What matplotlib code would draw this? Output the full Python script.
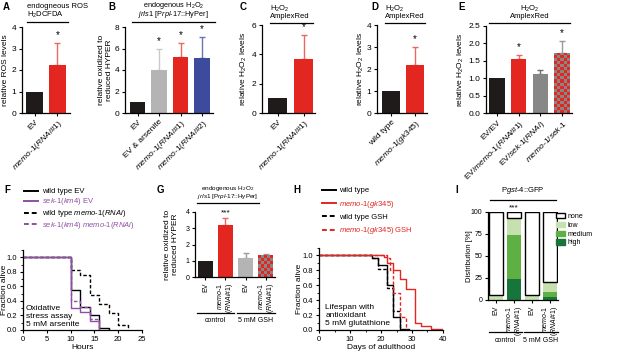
"""
MEMO-1 / H2O2 FIGURE (panels A-I)
"""

import matplotlib.pyplot as plt
import numpy as np
from matplotlib.colors import ListedColormap
from matplotlib.patches import Patch
from matplotlib.ticker import FormatStrFormatter, MultipleLocator
from matplotlib.transforms import blended_transform_factory

plt.rcParams['font.family'] = 'Liberation Sans'
plt.rcParams['mathtext.fontset'] = 'custom'
plt.rcParams['mathtext.rm'] = 'Liberation Sans'
plt.rcParams['mathtext.it'] = 'Liberation Sans:italic'
plt.rcParams['mathtext.bf'] = 'Liberation Sans:bold'
plt.rcParams['axes.linewidth'] = 0.9


def it(s):
    """ Italic text through mathtext, hyphens kept as real hyphens. """
    parts = s.split('-')
    return '-'.join(r'$\mathit{%s}$' % p.replace('#', r'\#').replace(' ', r'\ ')
                    for p in parts)


# Colours.
BLACK = '#1e1b1a'
RED = '#e3261f'
LRED = '#ea6a63'
LGRAY = '#b4b4b4'
DGRAY = '#878787'
BLUE = '#3c4b9b'
PURPLE = '#8f4fa3'
GREENS = ['#17743a', '#5fb043', '#c6e0b0', 'white']

# A - endogenous ROS.
a_labels = ['EV', it('memo-1(RNAi#1)')]
a_vals = [1.0, 2.25]
a_err = [0, 1.0]
a_sig = ['', '*']

# B - HyPer ratio.
b_labels = ['EV', 'EV & arsenite', it('memo-1(RNAi#1)'), it('memo-1(RNAi#2)')]
b_vals = [1.0, 4.0, 5.2, 5.1]
b_err = [0, 1.95, 1.3, 2.0]
b_sig = ['', '*', '*', '*']

# C - AmplexRed, RNAi.
c_labels = ['EV', it('memo-1(RNAi#1)')]
c_vals = [1.0, 3.7]
c_err = [0, 1.65]
c_sig = ['', '*']

# D - AmplexRed, mutant.
d_labels = ['wild type', it('memo-1(gk345)')]
d_vals = [1.0, 2.2]
d_err = [0, 0.82]
d_sig = ['', '*']

# E - AmplexRed, double RNAi.
e_labels = ['EV/EV', 'EV/' + it('memo-1(RNAi#1)'), 'EV/' + it('sek-1(RNAi)'),
            it('memo-1/sek-1')]
e_vals = [1.0, 1.56, 1.12, 1.73]
e_err = [0, 0.12, 0.12, 0.35]
e_sig = ['', '*', '', '*']

# F - arsenite survival (hours, fraction alive).
f_wt_ev_t = [0, 10, 12, 14, 16, 18]
f_wt_ev_s = [1.0, 0.55, 0.32, 0.20, 0.03, 0.0]
f_sek_ev_t = [0, 10, 12, 14, 16]
f_sek_ev_s = [1.0, 0.30, 0.25, 0.12, 0.0]
f_wt_memo_t = [0, 10, 12, 14, 16, 18, 20, 22]
f_wt_memo_s = [1.0, 0.82, 0.75, 0.48, 0.36, 0.23, 0.07, 0.0]
f_sek_memo_t = [0, 10, 12, 14, 16]
f_sek_memo_s = [1.0, 0.40, 0.31, 0.15, 0.0]

# G - HyPer ratio with glutathione.
g_labels = ['EV', it('memo-1') + '\n' + it('(RNAi#1)'),
            'EV', it('memo-1') + '\n' + it('(RNAi#1)')]
g_vals = [1.0, 3.18, 1.2, 1.35]
g_err = [0, 0.45, 0.25, 0.07]
g_sig = ['', '***', '', '']
groups = ['control', '5 mM GSH']

# H - lifespan with glutathione (days, fraction alive).
h_wt_t = [0, 17, 19, 22, 24, 26, 29]
h_wt_s = [1.0, 0.97, 0.87, 0.60, 0.18, 0.02, 0.0]
h_memo_t = [0, 21, 22, 24, 26, 28, 31, 33, 36, 40]
h_memo_s = [1.0, 0.98, 0.90, 0.80, 0.68, 0.55, 0.10, 0.05, 0.02, 0.0]
h_wt_gsh_t = [0, 17, 19, 22, 24, 26]
h_wt_gsh_s = [1.0, 0.96, 0.82, 0.56, 0.26, 0.0]
h_memo_gsh_t = [0, 22, 23, 24, 26, 28]
h_memo_gsh_s = [1.0, 0.97, 0.80, 0.50, 0.17, 0.0]

# I - Pgst-4::GFP distribution [%].
i_labels = g_labels
i_classes = ['high', 'medium', 'low', 'none']
i_high = [0, 24, 0, 3]
i_medium = [0, 50, 0, 6]
i_low = [6, 19, 6, 11]
i_none = [94, 7, 94, 80]

W, H = 617, 352
fig = plt.figure(figsize=(W / 100, H / 100), dpi=100)


def box(l, t, r, b):
    """ Axes rectangle from pixel edges (top = upper y limit). """
    return [l / W, 1 - b / H, (r - l) / W, (b - t) / H]


def style(ax, fs=6):
    for s in ['top', 'right']:
        ax.spines[s].set_visible(False)
    ax.tick_params(width=0.8, length=2.5, labelsize=fs, pad=1.5)
    ax.tick_params(which='minor', width=0.6, length=1.5)


def ylabel_at(ax, text, xpx, fs=6):
    ax.set_ylabel(text, fontsize=fs, linespacing=1.15)
    l, b, w, h = ax.get_position().bounds
    ax.yaxis.set_label_coords((xpx / W - l) / w, 0.5)


def header(ax, text, ytext, yline, x0, x1, ha='center', fs=5.5, ls=0.95):
    """ Title text with a rule under it, x in data, y in pixels. """
    tr = blended_transform_factory(ax.transData, fig.transFigure)
    ax.plot([x0, x1], [1 - yline / H] * 2, transform=tr, color='k', lw=0.9,
            clip_on=False)
    x = x0 if ha == 'left' else (x0 + x1) / 2
    ax.text(x, 1 - ytext / H, text, transform=tr, ha=ha, va='bottom',
            fontsize=fs, linespacing=ls)


def group_lines(ax, yline, ytext, fs):
    tr = blended_transform_factory(ax.transData, fig.transFigure)
    for k, name in enumerate(groups):
        i0, i1 = 2 * k, 2 * k + 1
        ax.plot([i0 - 0.42, i1 + 0.45], [1 - yline / H] * 2, transform=tr,
                color='k', lw=0.9, clip_on=False)
        ax.text((i0 + i1) / 2, 1 - ytext / H, name, transform=tr,
                ha='center', va='center', fontsize=fs)


def checker(ax, bar, c1, c2, cell=3):
    """ Red/grey checker pattern clipped to a bar. """
    bb = bar.get_window_extent()
    nx = max(1, round(bb.width / cell))
    ny = max(1, round(bb.height / cell))
    grid = np.indices((ny, nx)).sum(axis=0) % 2
    x0, y0 = bar.get_x(), bar.get_y()
    im = ax.imshow(grid, cmap=ListedColormap([c1, c2]), origin='lower',
                   extent=(x0, x0 + bar.get_width(), y0, y0 + bar.get_height()),
                   aspect='auto', interpolation='nearest', zorder=2.5)
    im.set_clip_path(bar)


def bar_panel(rect, labels, vals, errs, colors, ecolors, sig, ylim, ystep,
              xlim, rot=45, fs=6, star_fs=7, checks=()):
    ax = fig.add_axes(rect)
    x = np.arange(len(vals))
    bars = ax.bar(x, vals, width=0.72, color=colors, zorder=2)
    for xi, v, e, ec, s in zip(x, vals, errs, ecolors, sig):
        if e > 0:
            ax.errorbar(xi, v, yerr=[[0], [e]], fmt='none', ecolor=ec,
                        elinewidth=1.0, capsize=2.2, capthick=1.0, zorder=1)
        if s:
            ax.text(xi, v + e + ylim * 0.03, s, ha='center', va='bottom',
                    fontsize=star_fs)
    ax.set_xlim(*xlim)
    ax.set_ylim(0, ylim)
    ax.yaxis.set_major_locator(MultipleLocator(ystep))
    ax.set_xticks(x)
    if rot == 90:
        ax.set_xticklabels(labels, rotation=90, ha='center', va='top',
                           multialignment='right', linespacing=1.0)
    else:
        ax.set_xticklabels(labels, rotation=rot, ha='right',
                           rotation_mode='anchor')
    style(ax, fs)
    for k in checks:
        checker(ax, bars[k], RED, DGRAY)
    ax.set_xlim(*xlim)
    ax.set_ylim(0, ylim)
    return ax


# Top row: bar charts.
ax_a = bar_panel(box(22, 27, 70, 113), a_labels, a_vals, a_err, [BLACK, RED],
                 [BLACK, LRED], a_sig, 4, 1, (-0.55, 1.55))
ylabel_at(ax_a, 'relative ROS levels', 9)
header(ax_a, 'endogneous ROS\nH$_2$DCFDA', 19.5, 22, -0.33, 1.46, ha='left')

ax_b = bar_panel(box(125, 27, 213, 113), b_labels, b_vals, b_err,
                 [BLACK, LGRAY, RED, BLUE], [BLACK, '#cacaca', LRED, '#6775b5'],
                 b_sig, 8, 2, (-0.58, 3.5))
ylabel_at(ax_b, 'relative oxidized to\nreduced HYPER', 113)
header(ax_b, 'endogenous H$_2$O$_2$\n'
       r'$\mathit{jrIs1}$ [P$\mathit{rpl}$-$\mathit{17}$::HyPer]',
       20.5, 22, -0.25, 3.58, fs=5.3, ls=0.82)

ax_c = bar_panel(box(262, 25, 315, 113), c_labels, c_vals, c_err, [BLACK, RED],
                 [BLACK, LRED], c_sig, 6, 2, (-0.6, 1.44))
ylabel_at(ax_c, 'relative H$_2$O$_2$ levels', 249)
header(ax_c, 'H$_2$O$_2$\nAmplexRed', 20.5, 23, -0.3, 1.37, ha='left')

ax_d = bar_panel(box(377, 25, 427, 113), d_labels, d_vals, d_err, [BLACK, RED],
                 [BLACK, LRED], d_sig, 4, 1, (-0.58, 1.5))
ylabel_at(ax_d, 'relative H$_2$O$_2$ levels', 366)
header(ax_d, 'H$_2$O$_2$\nAmplexRed', 20.5, 23, -0.25, 1.42, ha='left')

ax_e = bar_panel(box(486, 26, 572, 113), e_labels, e_vals, e_err,
                 [BLACK, RED, DGRAY, RED], [BLACK, LRED, '#6f6f6f', '#9a9a9a'],
                 e_sig, 2.5, 0.5, (-0.5, 3.45), checks=[3])
ax_e.yaxis.set_major_formatter(FormatStrFormatter('%.1f'))
ylabel_at(ax_e, 'relative H$_2$O$_2$ levels', 466)
header(ax_e, 'H$_2$O$_2$\nAmplexRed', 20.5, 23, -0.36, 3.36)

# F - survival on arsenite.
ax_f = fig.add_axes(box(23, 250, 142, 330))
ax_f.step(f_wt_ev_t, f_wt_ev_s, where='post', color='k', lw=1.0,
          label='wild type EV')
ax_f.step(f_wt_memo_t, f_wt_memo_s, where='post', color='k', lw=1.0,
          ls=(0, (2.5, 1.5)), label='wild type ' + it('memo-1(RNAi)'))
ax_f.step(f_sek_memo_t, f_sek_memo_s, where='post', color=PURPLE, lw=1.0,
          ls=(0, (2.5, 1.5)),
          label=it('sek-1(km4)') + ' ' + it('memo-1(RNAi)'))
ax_f.step(f_sek_ev_t, f_sek_ev_s, where='post', color=PURPLE, lw=1.0,
          label=it('sek-1(km4)') + ' EV')
ax_f.set_xlim(0, 25)
ax_f.set_ylim(0, 1.1)
ax_f.xaxis.set_major_locator(MultipleLocator(5))
ax_f.yaxis.set_major_locator(MultipleLocator(0.2))
ax_f.yaxis.set_minor_locator(MultipleLocator(0.1))
ax_f.yaxis.set_major_formatter(FormatStrFormatter('%.1f'))
style(ax_f, 5.5)
ax_f.set_xlabel('Hours', fontsize=6, labelpad=1)
ylabel_at(ax_f, 'Fraction alive', 8)
ax_f.text(0.025, 0.025, 'Oxidative\nstress assay\n5 mM arsenite',
          transform=ax_f.transAxes, fontsize=6, va='bottom', linespacing=1.15)
handles, labels = ax_f.get_legend_handles_labels()
order = [0, 3, 1, 2]
leg = ax_f.legend([handles[k] for k in order], [labels[k] for k in order],
                  loc='upper left', bbox_to_anchor=(24 / W, 1 - 188 / H),
                  bbox_transform=fig.transFigure, frameon=False, fontsize=5.5,
                  handlelength=1.8, handletextpad=0.5, labelspacing=0.12,
                  borderpad=0, borderaxespad=0)
for txt, c in zip(leg.get_texts(), ['k', PURPLE, 'k', PURPLE]):
    txt.set_color(c)
for line in leg.get_lines():
    line.set_linewidth(1.4)

# G - HyPer with glutathione.
ax_g = bar_panel(box(195, 212, 275, 277), g_labels, g_vals, g_err,
                 [BLACK, RED, LGRAY, RED], [BLACK, LRED, '#9c9c9c', '#9a9a9a'],
                 g_sig, 4, 1, (-0.52, 3.47), rot=90, fs=5, star_fs=6,
                 checks=[3])
ylabel_at(ax_g, 'relative oxidized to\nreduced HYPER', 179)
header(ax_g, 'endogenous H$_2$O$_2$\n'
       r'$\mathit{jrIs1}$ [P$\mathit{rpl}$-$\mathit{17}$::HyPer]',
       201.5, 203, -0.43, 2.65, fs=4.6)
group_lines(ax_g, 313, 320, 5)

# H - lifespan with glutathione.
ax_h = fig.add_axes(box(319, 248, 443, 330))
ax_h.step(h_wt_t, h_wt_s, where='post', color='k', lw=1.0, label='wild type')
ax_h.step(h_wt_gsh_t, h_wt_gsh_s, where='post', color='k', lw=1.0,
          ls=(0, (2.5, 1.5)), label='wild type GSH')
ax_h.step(h_memo_gsh_t, h_memo_gsh_s, where='post', color=RED, lw=1.0,
          ls=(0, (2.5, 1.5)), label=it('memo-1(gk345)') + ' GSH')
ax_h.step(h_memo_t, h_memo_s, where='post', color=RED, lw=1.0,
          label=it('memo-1(gk345)'))
ax_h.set_xlim(0, 40)
ax_h.set_ylim(0, 1.1)
ax_h.xaxis.set_major_locator(MultipleLocator(10))
ax_h.xaxis.set_minor_locator(MultipleLocator(5))
ax_h.yaxis.set_major_locator(MultipleLocator(0.2))
ax_h.yaxis.set_minor_locator(MultipleLocator(0.1))
ax_h.yaxis.set_major_formatter(FormatStrFormatter('%.1f'))
style(ax_h, 5.5)
ax_h.set_xlabel('Days of adulthood', fontsize=6, labelpad=1)
ylabel_at(ax_h, 'Fraction alive', 303)
ax_h.text(0.05, 0.04, 'Lifespan with\nantioxidant\n5 mM glutathione',
          transform=ax_h.transAxes, fontsize=6, va='bottom', linespacing=1.15)
handles, labels = ax_h.get_legend_handles_labels()
order = [0, 3, 1, 2]
leg = ax_h.legend([handles[k] for k in order], [labels[k] for k in order],
                  loc='upper left', bbox_to_anchor=(322 / W, 1 - 187 / H),
                  bbox_transform=fig.transFigure, frameon=False, fontsize=5.5,
                  handlelength=1.8, handletextpad=0.4, labelspacing=0.55,
                  borderpad=0, borderaxespad=0)
for txt, c in zip(leg.get_texts(), ['k', RED, 'k', RED]):
    txt.set_color(c)
for line in leg.get_lines():
    line.set_linewidth(1.4)

# I - gst-4 reporter distribution.
ax_i = fig.add_axes(box(488, 212, 558, 300))
x = np.arange(len(i_none))
bottom = np.zeros(len(x))
for name, vals, col in zip(i_classes, [i_high, i_medium, i_low, i_none], GREENS):
    edge = 'k' if name == 'none' else 'none'
    ax_i.bar(x, vals, bottom=bottom, width=0.74, color=col, edgecolor=edge,
             linewidth=1.0, label=name, zorder=2)
    bottom += np.array(vals)
ax_i.text(1, 100.5, '***', ha='center', va='bottom', fontsize=6)
ax_i.set_xlim(-0.45, 3.45)
ax_i.set_ylim(0, 100)
ax_i.yaxis.set_major_locator(MultipleLocator(25))
ax_i.set_xticks(x)
ax_i.set_xticklabels(i_labels, rotation=90, ha='center', va='top',
                     multialignment='right', linespacing=1.0)
style(ax_i, 5)
ylabel_at(ax_i, 'Distribution [%]', 473, fs=5.5)
header(ax_i, r'P$\mathit{gst}$-$\mathit{4}$::GFP', 196, 200, -0.36, 3.33,
       fs=5.5)
group_lines(ax_i, 332, 340, 5)
handles = [Patch(facecolor=c, edgecolor='k' if c == 'white' else c, lw=1.0)
           for c in GREENS[::-1]]
ax_i.legend(handles, i_classes[::-1], loc='upper left',
            bbox_to_anchor=(556 / W, 1 - 213 / H), bbox_transform=fig.transFigure,
            frameon=False, fontsize=5, handlelength=1.3, handleheight=0.8,
            handletextpad=0.4, labelspacing=0.25, borderpad=0, borderaxespad=0)

# Panel letters.
letters = {'A': (3, 2), 'B': (108, 2), 'C': (240, 2), 'D': (371, 2),
           'E': (458, 2), 'F': (4, 185), 'G': (157, 185), 'H': (293, 185),
           'I': (455, 185)}
for name, (px, py) in letters.items():
    fig.text(px / W, 1 - py / H, name, fontsize=7, weight='bold', va='top')

fig.savefig('out.png', dpi=100)
